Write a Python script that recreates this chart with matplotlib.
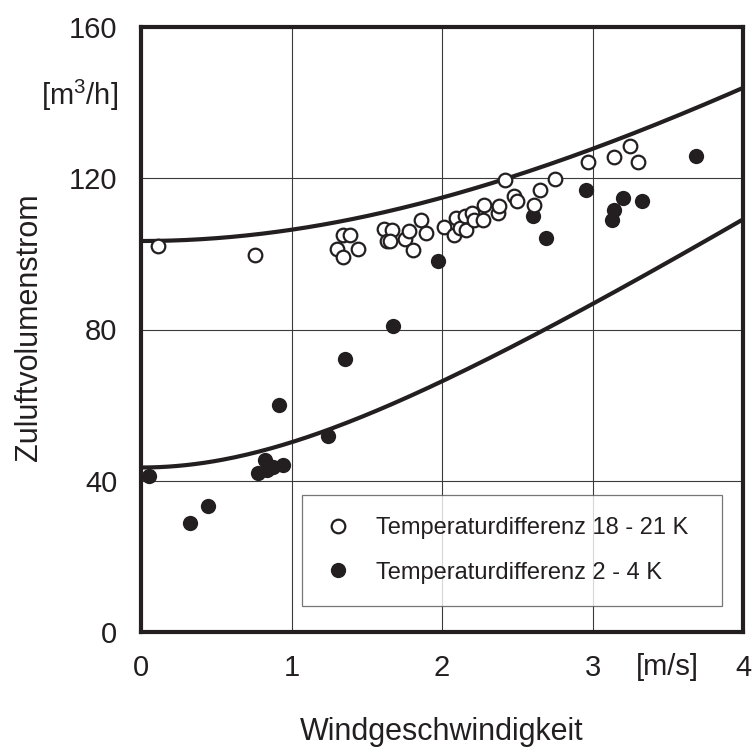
import numpy as np
import matplotlib
matplotlib.use("Agg")
import matplotlib.pyplot as plt
from matplotlib.lines import Line2D

plt.rcParams["font.family"] = ["Liberation Sans", "DejaVu Sans"]
plt.rcParams["mathtext.fontset"] = "custom"
plt.rcParams["mathtext.rm"] = "Liberation Sans"
plt.rcParams["mathtext.it"] = "Liberation Sans"

INK = "#231f20"

# Measurements: wind speed [m/s] vs. supply air flow [m3/h]
wind_hot = [0.11, 0.76, 1.30, 1.34, 1.39, 1.44, 1.34, 1.615, 1.637, 1.666, 1.654,
            1.754, 1.783, 1.81, 1.858, 1.896, 2.01, 2.09, 2.08, 2.12, 2.15, 2.16,
            2.20, 2.21, 2.27, 2.28, 2.37, 2.38, 2.42, 2.48, 2.50, 2.61, 2.65,
            2.75, 2.97, 3.14, 3.25, 3.30]
flow_hot = [102.1, 99.7, 101.3, 105.0, 105.0, 101.2, 99.1, 106.5, 103.4, 106.2, 103.3,
            103.9, 106.1, 101.1, 109.0, 105.6, 107.1, 109.4, 105.0, 106.8, 109.9, 106.3,
            110.8, 109.0, 109.0, 113.0, 110.8, 112.7, 119.6, 115.2, 114.1, 113.0, 116.9,
            119.8, 124.4, 125.5, 128.6, 124.4]

wind_mild = [0.05, 0.447, 0.326, 0.917, 0.78, 0.824, 0.835, 0.88, 0.946, 1.24,
             1.356, 1.677, 1.976, 2.607, 2.69, 2.96, 3.205, 3.145, 3.13, 3.33, 3.69]
flow_mild = [41.3, 33.3, 28.9, 60.1, 42.1, 45.5, 42.9, 43.7, 44.2, 51.9,
             72.1, 81.0, 98.1, 109.9, 104.3, 116.9, 114.7, 111.6, 109.0, 114.1, 126.0]

# Model curves: thermal base flow combined with wind-driven flow
base_hot = 103.4
base_mild = 43.5
wind_coeff = 626.0

x_ticks = [0, 1, 2, 3, 4]
y_ticks = [0, 40, 80, 120, 160]

fig = plt.figure(figsize=(7.56, 7.51), dpi=100)
ax = fig.add_axes([141 / 756, 1 - 632 / 751, 602 / 756, 605 / 751])

v = np.linspace(0, 4, 200)
for base in (base_hot, base_mild):
    ax.plot(v, np.sqrt(base ** 2 + wind_coeff * v ** 2), color=INK, lw=3.0,
            solid_capstyle="butt", zorder=3)

ax.plot(wind_mild, flow_mild, "o", ms=11.0, mfc=INK, mec=INK, mew=0, zorder=4)
ax.plot(wind_hot, flow_hot, "o", ms=9.8, mfc="white", mec=INK, mew=1.6, zorder=5)

ax.set_xlim(0, 4)
ax.set_ylim(0, 160)
ax.set_xticks(x_ticks)
ax.set_yticks(y_ticks)
ax.set_xticklabels([str(t) for t in x_ticks])
ax.set_yticklabels([str(t) for t in y_ticks])
ax.tick_params(length=0, labelsize=21, colors=INK)
ax.tick_params(axis="y", pad=17)
ax.tick_params(axis="x", pad=16)
ax.grid(True, color="#3a3a3a", lw=0.8, zorder=1)
ax.set_axisbelow(True)
for s in ax.spines.values():
    s.set_linewidth(3.0)
    s.set_color(INK)

fig.text(29 / 756, 1 - 327 / 751, "Zuluftvolumenstrom", fontsize=22, color=INK,
         rotation=90, ha="center", va="center")
fig.text(442 / 756, 1 - 732 / 751, "Windgeschwindigkeit", fontsize=22, color=INK,
         ha="center", va="center")
fig.text(118 / 756, 1 - 95 / 751, r"[m$^3$/h]", fontsize=21, color=INK,
         ha="right", va="center")
fig.text(667 / 756, 1 - 667 / 751, "[m/s]", fontsize=21, color=INK,
         ha="center", va="center")

handles = [
    Line2D([], [], ls="none", marker="o", ms=9.8, mfc="white", mec=INK, mew=1.6),
    Line2D([], [], ls="none", marker="o", ms=11.0, mfc=INK, mec=INK, mew=0),
]
labels = ["Temperaturdifferenz 18 - 21 K", "Temperaturdifferenz 2 - 4 K"]
leg = ax.legend(handles, labels, loc="lower left",
                bbox_to_anchor=(0.267, 0.043, 0.698, 0.183), mode="expand",
                borderaxespad=0, fontsize=17, frameon=True, fancybox=False,
                handlelength=1.2, handletextpad=1.0, labelspacing=0.95,
                borderpad=0.95, labelcolor=INK)
leg.get_frame().set_edgecolor("#555555")
leg.get_frame().set_linewidth(0.9)
leg.set_zorder(6)

fig.savefig("out.png", dpi=100)
